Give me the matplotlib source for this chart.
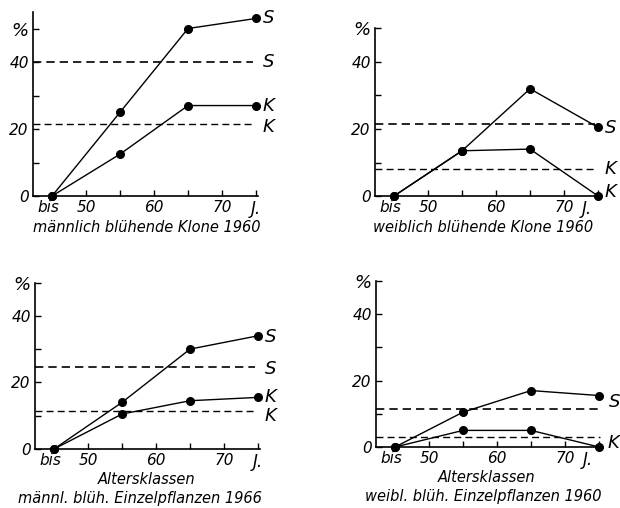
#!/usr/bin/env python
# -*- coding: utf-8 -*-

import matplotlib
matplotlib.use('Agg')
import matplotlib.pyplot as plt

# age classes (bis 45 .. 75 J.)
ages = [45, 55, 65, 75]

# maennlich bluehende Klone 1960
mk_S = [0, 25, 50, 53]
mk_K = [0, 12.5, 27, 27]
mk_mean = {'S': 40, 'K': 21.5}

# weiblich bluehende Klone 1960
wk_S = [0, 13.5, 32, 20.5]
wk_K = [0, 13.5, 14, 0]
wk_mean = {'S': 21.5, 'K': 8}

# maennl. blueh. Einzelpflanzen 1966
me_S = [0, 14, 30, 34]
me_K = [0, 10.5, 14.5, 15.5]
me_mean = {'S': 24.5, 'K': 11.3}

# weibl. blueh. Einzelpflanzen 1960
we_S = [0, 10.5, 17, 15.5]
we_K = [0, 5, 5, 0]
we_mean = {'S': 11.5, 'K': 3}

y_ticks = [0, 10, 20, 30, 40, 50]
y_labels = ['0', '', '20', '', '40', '%']
x_ticks = [50, 55, 60, 65, 70, 75]
x_labels = ['50', '', '60', '', '70', '']

plt.rcParams['font.family'] = 'DejaVu Sans'
plt.rcParams['font.style'] = 'italic'
plt.rcParams['font.size'] = 11

W, H = 620, 508


def make_ax(fig, left, bottom, top_val, px_per_unit):
    # left/bottom in pixels from top-left corner of the figure
    width = 33.1 * 6.8
    height = top_val * px_per_unit
    ax = fig.add_axes([left / W, (H - bottom) / H, width / W, height / H])
    ax.set_xlim(42.2, 75.3)
    ax.set_ylim(0, top_val)
    for s in ['top', 'right']:
        ax.spines[s].set_visible(False)
    for s in ['left', 'bottom']:
        ax.spines[s].set_linewidth(1.2)
    ax.set_yticks(y_ticks)
    ax.set_yticklabels(y_labels)
    ax.set_xticks(x_ticks)
    ax.set_xticklabels(x_labels)
    ax.tick_params(direction='in', length=4, width=1.0, labelsize=11)
    ax.tick_params(axis='y', pad=3)
    ax.tick_params(axis='x', pad=3)
    ax.get_yticklabels()[-1].set_fontsize(13)
    ax.patch.set_alpha(0)
    return ax


def draw(ax, S, K, mean, lab, jx=75, dash_end=74.5):
    ax.plot(ages, S, color='black', lw=1.0, marker='o', ms=5.5, clip_on=False)
    ax.plot(ages, K, color='black', lw=1.0, marker='o', ms=5.5, clip_on=False)
    for key, lw in [('S', 1.2), ('K', 1.0)]:
        ax.plot([42.2, dash_end], [mean[key], mean[key]], color='black',
                lw=lw, ls=(0, (5, 3)), clip_on=False)
    for txt, x, y in lab:
        ax.text(x, y, txt, ha='left', va='center', fontsize=13)
    ax.annotate('bis', xy=(44.5, 0), xytext=(0, -3), textcoords='offset points',
                ha='center', va='top', fontsize=11, annotation_clip=False)
    ax.annotate('J.', xy=(jx, 0), xytext=(0, -3), textcoords='offset points',
                ha='center', va='top', fontsize=12, annotation_clip=False)


def main():
    fig = plt.figure(figsize=(6.2, 5.08), dpi=100)

    ax1 = make_ax(fig, 33, 196, 55, 3.35)
    draw(ax1, mk_S, mk_K, mk_mean,
         [('S', 76.0, 53), ('S', 76.0, 40), ('K', 76.0, 27), ('K', 76.0, 20.5)])

    ax2 = make_ax(fig, 375, 196, 50, 3.35)
    draw(ax2, wk_S, wk_K, wk_mean,
         [('S', 76.0, 20.4), ('K', 76.0, 8), ('K', 76.0, 1.3)], jx=73.3)

    ax3 = make_ax(fig, 35, 449, 50, 3.33)
    draw(ax3, me_S, me_K, me_mean,
         [('S', 76.0, 33.5), ('S', 76.0, 24), ('K', 76.0, 15.6), ('K', 76.0, 9.8)])

    ax4 = make_ax(fig, 376, 447, 50, 3.32)
    draw(ax4, we_S, we_K, we_mean,
         [('S', 76.4, 13.5), ('K', 76.2, 1.2)], jx=73.3, dash_end=75.2)

    def ftext(x, y, s):
        fig.text(x / W, 1 - y / H, s, ha='center', va='center', fontsize=10.5)

    ftext(147, 228, u'männlich blühende Klone 1960')
    ftext(483, 228, u'weiblich blühende Klone 1960')
    ftext(147, 479, 'Altersklassen')
    ftext(140, 499, u'männl. blüh. Einzelpflanzen 1966')
    ftext(487, 477, 'Altersklassen')
    ftext(483, 496, u'weibl. blüh. Einzelpflanzen 1960')

    plt.savefig('out.png', dpi=100)


if __name__ == '__main__':
    main()
